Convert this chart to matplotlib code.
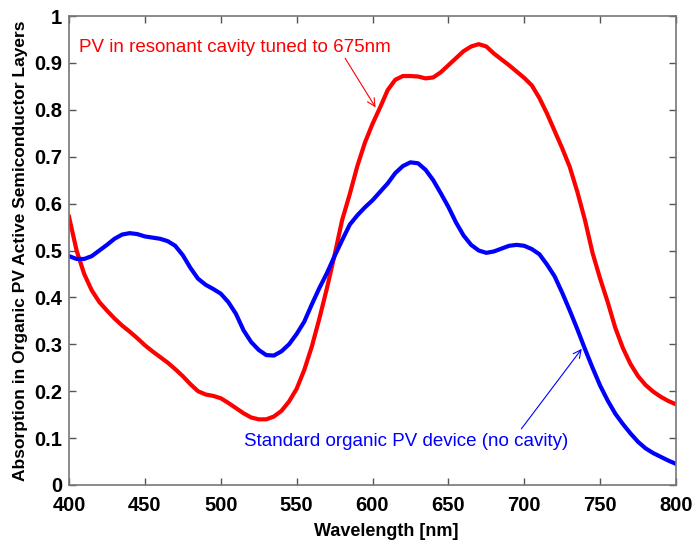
import matplotlib
matplotlib.use("Agg")
import matplotlib.pyplot as plt

wl_red = [400, 405, 410, 415, 420, 425, 430, 435, 440, 445, 450, 455, 460, 465, 470, 475,
          480, 485, 490, 495, 500, 505, 510, 515, 520, 525, 530, 535, 540, 545, 550, 555,
          560, 565, 570, 575, 580, 585, 590, 595, 600, 605, 610, 615, 620, 625, 630, 635,
          640, 645, 650, 655, 660, 665, 670, 675, 680, 690, 700, 705, 710, 715, 720, 725,
          730, 735, 740, 745, 750, 755, 760, 765, 770, 775, 780, 785, 790, 795, 800]
abs_cavity = [0.572, 0.50, 0.45, 0.415, 0.39, 0.372, 0.355, 0.34, 0.327, 0.313, 0.298, 0.285,
              0.273, 0.261, 0.247, 0.232, 0.215, 0.20, 0.193, 0.19, 0.185, 0.175, 0.164, 0.153,
              0.144, 0.14, 0.14, 0.146, 0.158, 0.178, 0.205, 0.245, 0.295, 0.355, 0.42, 0.49,
              0.565, 0.62, 0.68, 0.73, 0.77, 0.805, 0.842, 0.864, 0.872, 0.872, 0.871, 0.867,
              0.869, 0.88, 0.895, 0.91, 0.925, 0.935, 0.94, 0.935, 0.92, 0.895, 0.868, 0.852,
              0.825, 0.792, 0.755, 0.718, 0.678, 0.625, 0.565, 0.495, 0.44, 0.39, 0.335, 0.292,
              0.258, 0.232, 0.213, 0.199, 0.188, 0.179, 0.172]

wl_blue = [400, 405, 410, 415, 420, 425, 430, 435, 440, 445, 450, 460, 465, 470, 475, 480,
           485, 490, 495, 500, 505, 510, 515, 520, 525, 530, 535, 540, 545, 550, 555, 560,
           565, 570, 575, 580, 585, 590, 595, 600, 605, 610, 615, 620, 625, 630, 635, 640,
           645, 650, 655, 660, 665, 670, 675, 680, 685, 690, 695, 700, 705, 710, 715, 720,
           725, 730, 735, 740, 745, 750, 755, 760, 765, 770, 775, 780, 785, 790, 795, 800]
abs_standard = [0.488, 0.482, 0.482, 0.488, 0.50, 0.512, 0.525, 0.534, 0.537, 0.535, 0.53,
                0.525, 0.52, 0.51, 0.49, 0.463, 0.44, 0.427, 0.418, 0.408, 0.39, 0.365, 0.33,
                0.305, 0.288, 0.277, 0.276, 0.285, 0.30, 0.322, 0.348, 0.385, 0.42, 0.452, 0.488,
                0.522, 0.555, 0.575, 0.592, 0.607, 0.625, 0.643, 0.665, 0.68, 0.688, 0.686, 0.672,
                0.65, 0.622, 0.593, 0.56, 0.532, 0.512, 0.50, 0.495, 0.498, 0.504, 0.51, 0.512,
                0.51, 0.503, 0.492, 0.47, 0.445, 0.41, 0.372, 0.332, 0.29, 0.25, 0.212, 0.18,
                0.152, 0.13, 0.11, 0.092, 0.078, 0.068, 0.06, 0.052, 0.045]

x_ticks = [400, 450, 500, 550, 600, 650, 700, 750, 800]
y_ticks = [0, 0.1, 0.2, 0.3, 0.4, 0.5, 0.6, 0.7, 0.8, 0.9, 1.0]
y_tick_labels = ["0", "0.1", "0.2", "0.3", "0.4", "0.5", "0.6", "0.7", "0.8", "0.9", "1"]

plt.rcParams['font.family'] = ['Liberation Sans', 'DejaVu Sans']

fig = plt.figure(figsize=(6.95, 5.41), dpi=100)
ax = fig.add_axes([69/695, 1 - 485/541, (676-69)/695, (485-16)/541])

ax.plot(wl_red, abs_cavity, color='#ff0000', lw=3.0, solid_joinstyle='round')
ax.plot(wl_blue, abs_standard, color='#0000ff', lw=3.0, solid_joinstyle='round')

ax.set_xlim(400, 800)
ax.set_ylim(0, 1)
ax.set_xticks(x_ticks)
ax.set_xticklabels([str(t) for t in x_ticks])
ax.set_yticks(y_ticks)
ax.set_yticklabels(y_tick_labels)
ax.tick_params(direction='in', length=5, width=1, color='#555555', top=True, right=True,
               labelsize=14.5)
ax.tick_params(axis='x', pad=8)
ax.tick_params(axis='y', pad=5)
for lab in ax.get_xticklabels() + ax.get_yticklabels():
    lab.set_fontweight('bold')
for s in ax.spines.values():
    s.set_color('#777777')
    s.set_linewidth(1.2)

ax.set_xlabel('Wavelength [nm]', fontsize=13, fontweight='bold')
ax.xaxis.set_label_coords(0.522, -0.08)
ax.set_ylabel('Absorption in Organic PV Active Semiconductor Layers', fontsize=12.5,
              fontweight='bold', labelpad=4)

ax.text(406.5, 0.932, 'PV in resonant cavity tuned to 675nm', color='#ff0000',
        fontsize=13.5, va='center', ha='left')
ax.annotate('', xy=(603, 0.80), xytext=(581, 0.915),
            arrowprops=dict(arrowstyle='->', color='#ff0000', lw=0.8, mutation_scale=14))

ax.text(515, 0.092, 'Standard organic PV device (no cavity)', color='#0000ff',
        fontsize=13.5, va='center', ha='left')
ax.annotate('', xy=(739, 0.295), xytext=(697, 0.115),
            arrowprops=dict(arrowstyle='->', color='#0000ff', lw=0.8, mutation_scale=14))

fig.savefig('out.png', dpi=100)
